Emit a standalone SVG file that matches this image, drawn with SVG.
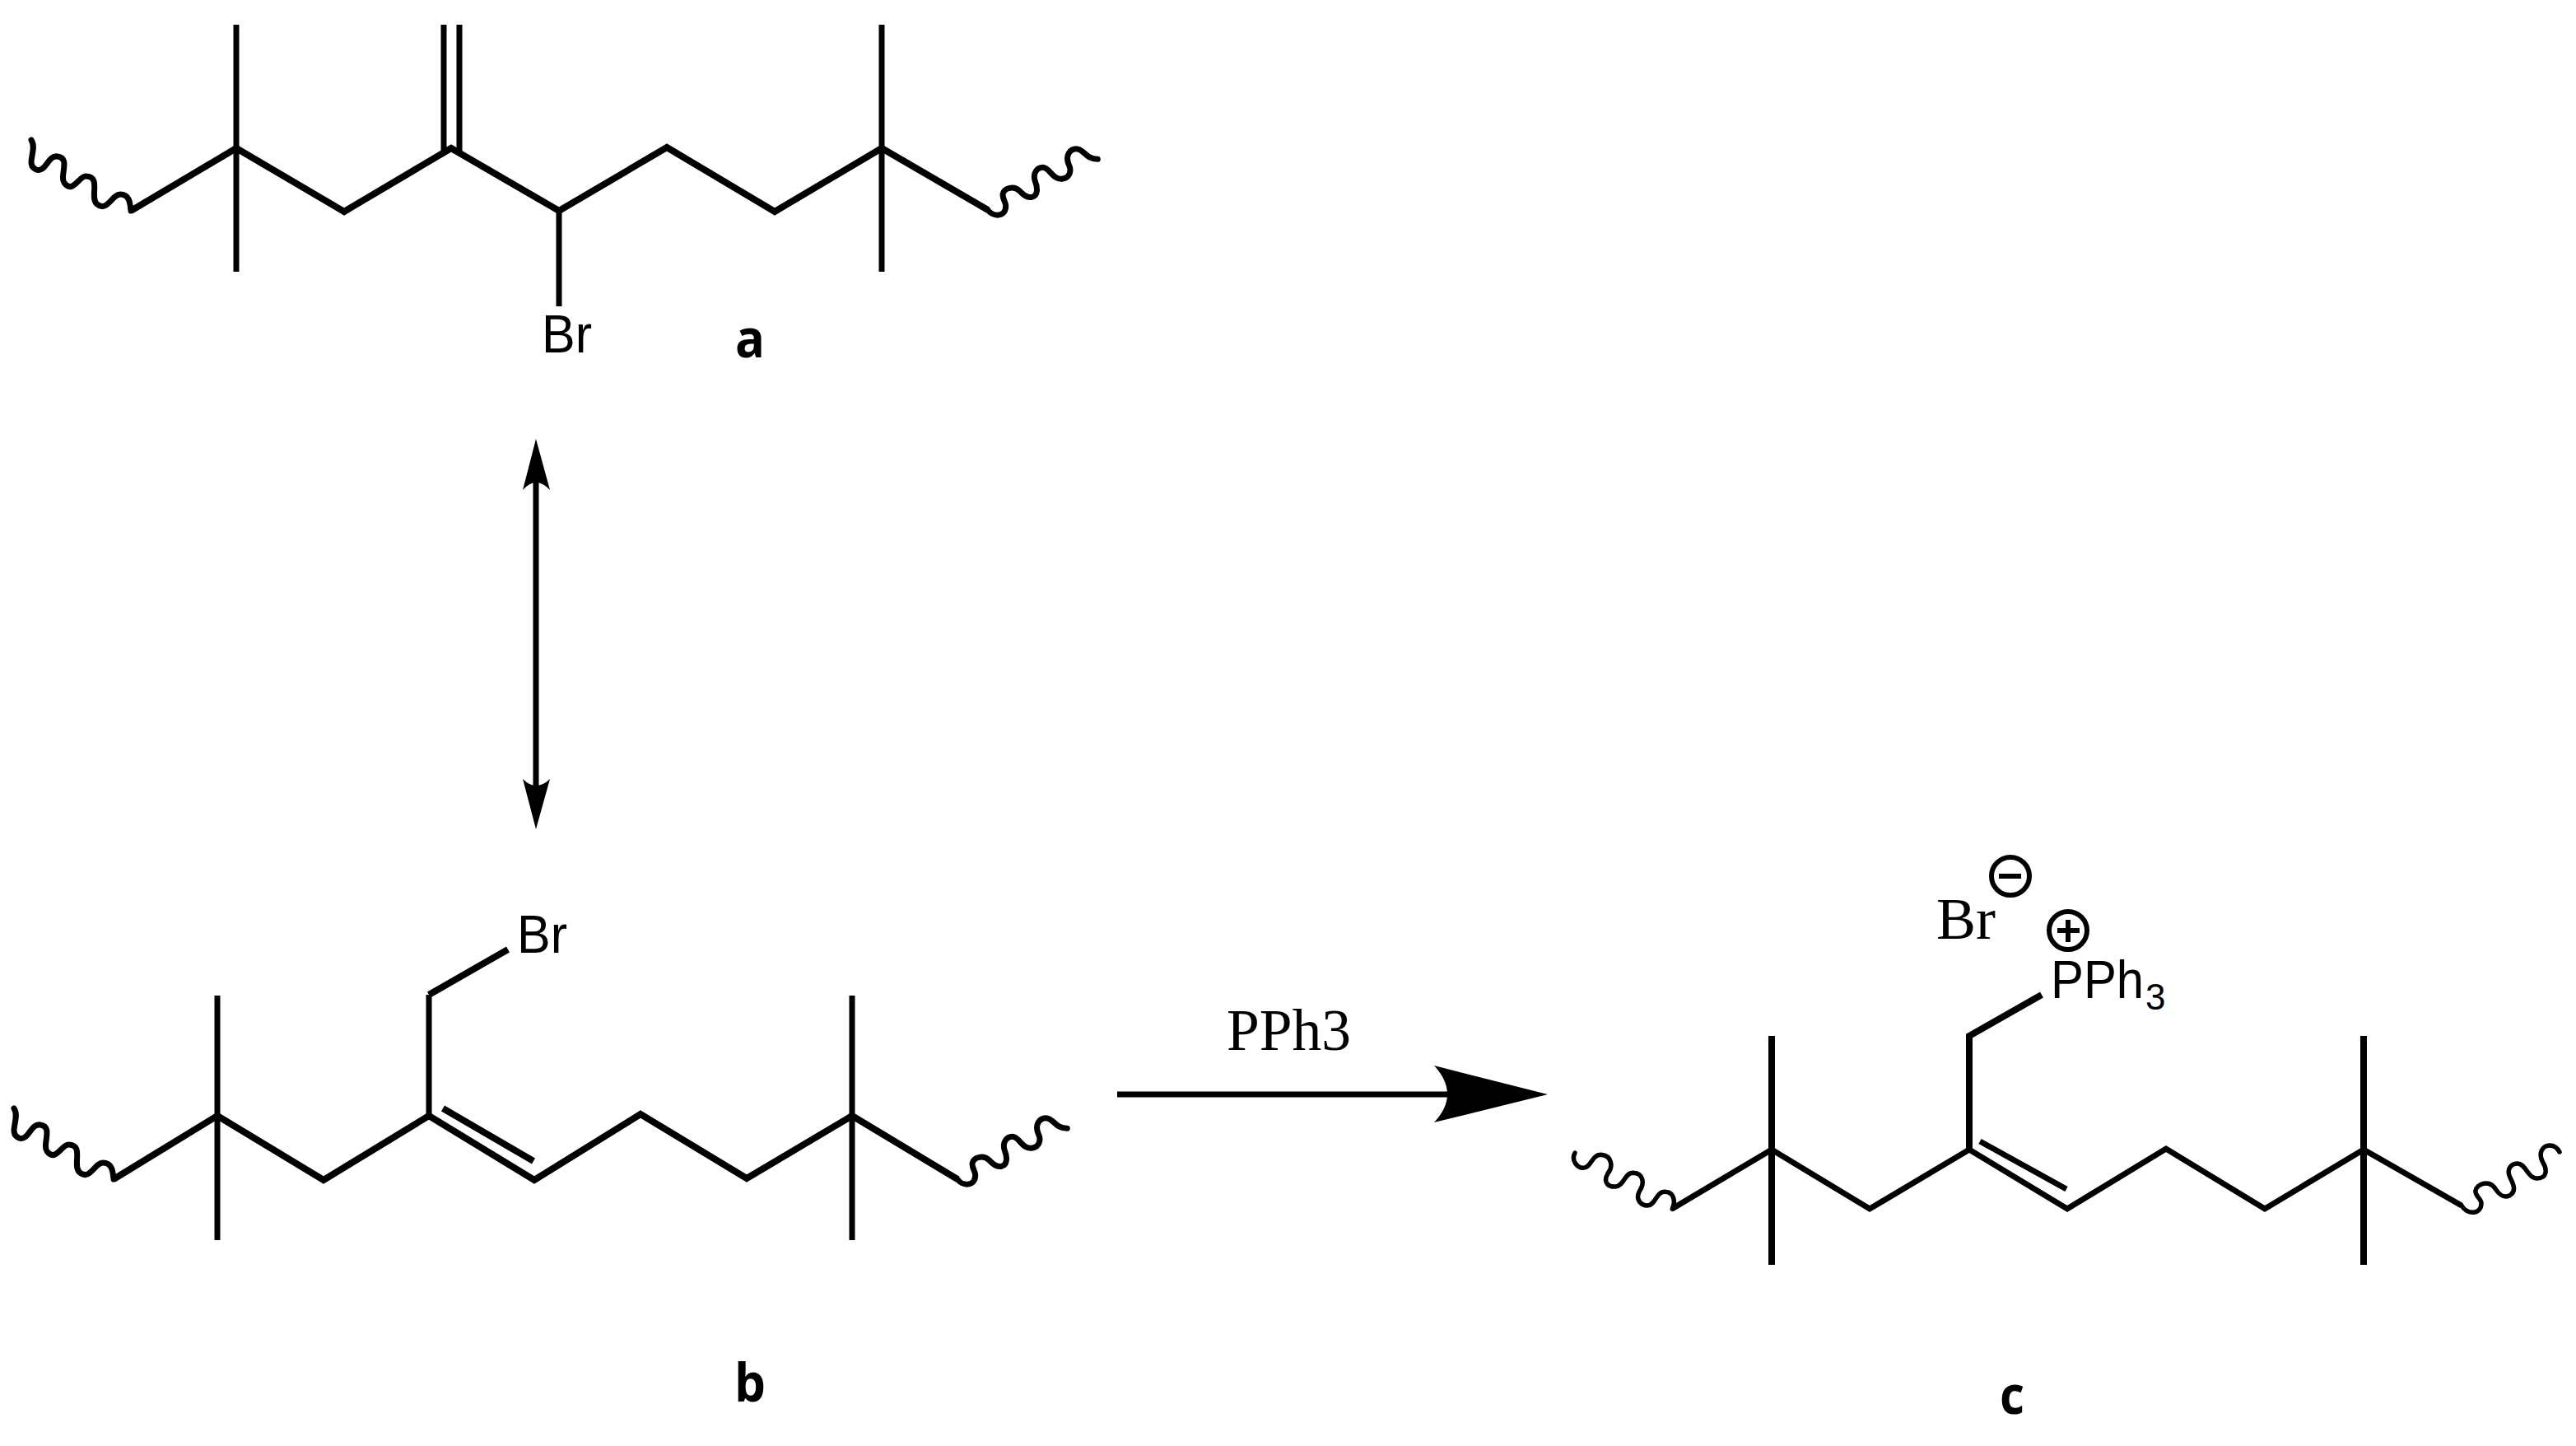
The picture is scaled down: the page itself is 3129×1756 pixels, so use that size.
<svg xmlns="http://www.w3.org/2000/svg" width="3129" height="1756" viewBox="0 0 3129 1756">
<defs>
<style>
.b{fill:none;stroke:#000;stroke-width:7;stroke-linecap:butt;stroke-linejoin:miter}
.d{fill:none;stroke:#000;stroke-width:8;stroke-linecap:butt;stroke-linejoin:miter}
.c{fill:none;stroke:#000;stroke-width:8;stroke-linecap:butt;stroke-linejoin:miter}
.w{fill:none;stroke:#000;stroke-width:7;stroke-linecap:round}
.v{fill:none;stroke:#000;stroke-width:5.5;stroke-linecap:round}
.m{fill:none;stroke:#000;stroke-width:6}
.s{font-family:"Liberation Sans",Arial,sans-serif;fill:#000;font-size:64px}
.t{font-family:"Liberation Serif","Times New Roman",serif;fill:#000;font-size:72px}
.l{font-family:"Open Sans",sans-serif;font-weight:700;fill:#000;font-size:64px}
</style>
<path id="wl" d="M0,0C8,12-8,30 6,36C18,40 20,18 32,20C48,22 34,44 40,52C50,66 58,44 66,44C86,44 70,70 80,78C92,88 98,66 108,66C120,66 120,78 121,86"/>
<path id="wr" d="M0,0C5,8 21.7,10 21.7,-5C21.7,-10 16.7,-15 18.3,-20C20,-26.7 31.7,-30 38.3,-23.3C43.3,-17.7 48.3,-14.3 53.3,-15.7C61.7,-17.7 60,-28.3 57.3,-35C54,-45 60,-51.7 66.7,-51.7C75,-51.7 78.3,-36.7 90,-37.7C100,-39 101.7,-48.3 98.3,-55C93.3,-66.7 100,-74.3 107.3,-74.3C116.7,-74.3 118.3,-61.7 133.3,-61.7"/>
<path id="wlc" d="M0,0C-5,10 3.3,18.3 10,18.3C20,18.3 20,2.3 31.7,2.3C45,3.3 46.7,16.7 40,25C33.3,36.7 41.7,41.7 49.3,41C60,40 60,24.3 70.7,24.3C83.3,25 85,36.7 78.3,46.7C73.3,56.7 80,64 88.3,64C98.3,63.3 98.3,47.3 109,47.3C120,47.3 122.7,58.3 118.3,68.3"/>
<path id="wrc" d="M0,0C6,11 24,12 24,-3C24,-8 16,-12 17,-18C18,-26 34,-33 42,-19C46,-13 52,-9 58,-12C68,-17 62,-28 59,-34C54,-44 60,-51 68,-51C78,-51 80,-33 92,-33C104,-33 104,-44 99,-52C92,-64 99,-73 107,-73C113,-73 117,-69 119,-65"/>
</defs>
<g id="connectors">
<path class="b" d="M1357,1329H1762"/>
<path d="M1880,1329L1742,1363Q1774,1329 1742,1294Z" fill="#000"/>
<path class="b" d="M651,580V960"/>
<path d="M651,533L668,595Q651,577 635,595Z" fill="#000"/>
<path d="M651,1007L635,946Q651,962 668,946Z" fill="#000"/>
</g>
<g id="node-a">
<path class="d" d="M159,256L287,180L418,257L548,180L679,256L810,179L941,257L1071,180L1200,255"/>
<path class="b" d="M287,30V330M1071,30V330M539,30V184M558,30V184M679,256V372"/>
<use href="#wl" class="w" x="38" y="170"/>
<use href="#wr" class="w" x="1200" y="255"/>
<text class="s" x="658" y="428" textLength="61" lengthAdjust="spacingAndGlyphs">Br</text>
<text class="l" x="893" y="434" textLength="36" lengthAdjust="spacingAndGlyphs">a</text>
</g>
<g id="node-b">
<path class="d" d="M138,1432L264,1355L393,1433L521,1355L649,1433L778,1353L907,1431L1035,1355L1163,1432"/>
<path class="b" d="M264,1209V1506M1035,1209V1506M521,1355V1208"/>
<path class="d" d="M521,1208L617,1153M538,1346L648,1410"/>
<use href="#wl" class="w" x="17" y="1346"/>
<use href="#wr" class="w" x="1163" y="1432"/>
<text class="s" x="628" y="1157" textLength="61" lengthAdjust="spacingAndGlyphs">Br</text>
<text class="l" x="892" y="1702" textLength="38" lengthAdjust="spacingAndGlyphs">b</text>
</g>
<g id="node-c">
<path class="b" d="M2031,1468L2152,1396L2271,1468L2392,1396L2511,1468L2631,1395L2751,1468L2871,1396L2990,1464"/>
<path class="c" d="M2152,1258V1536M2871,1258V1536M2392,1396V1258L2480,1208"/>
<path class="b" d="M2405,1386L2510,1444"/>
<use href="#wlc" class="v" x="1913" y="1400"/>
<use href="#wrc" class="v" x="2990" y="1464"/>
<text class="t" x="2352" y="1140">Br</text>
<circle class="m" cx="2442" cy="1064" r="23"/>
<path class="m" d="M2428,1064H2455"/>
<circle class="m" cx="2512" cy="1130" r="23"/>
<path class="m" d="M2499,1130H2526M2512,1117V1144"/>
<text class="s" x="2491" y="1212" textLength="113" lengthAdjust="spacingAndGlyphs">PPh</text>
<text class="s" x="2606" y="1226" style="font-size:44px">3</text>
<text class="l" x="2429" y="1717" textLength="30" lengthAdjust="spacingAndGlyphs">c</text>
</g>
<g id="label-reagent">
<text class="t" x="1490" y="1275" textLength="151" lengthAdjust="spacingAndGlyphs">PPh3</text>
</g>
</svg>
